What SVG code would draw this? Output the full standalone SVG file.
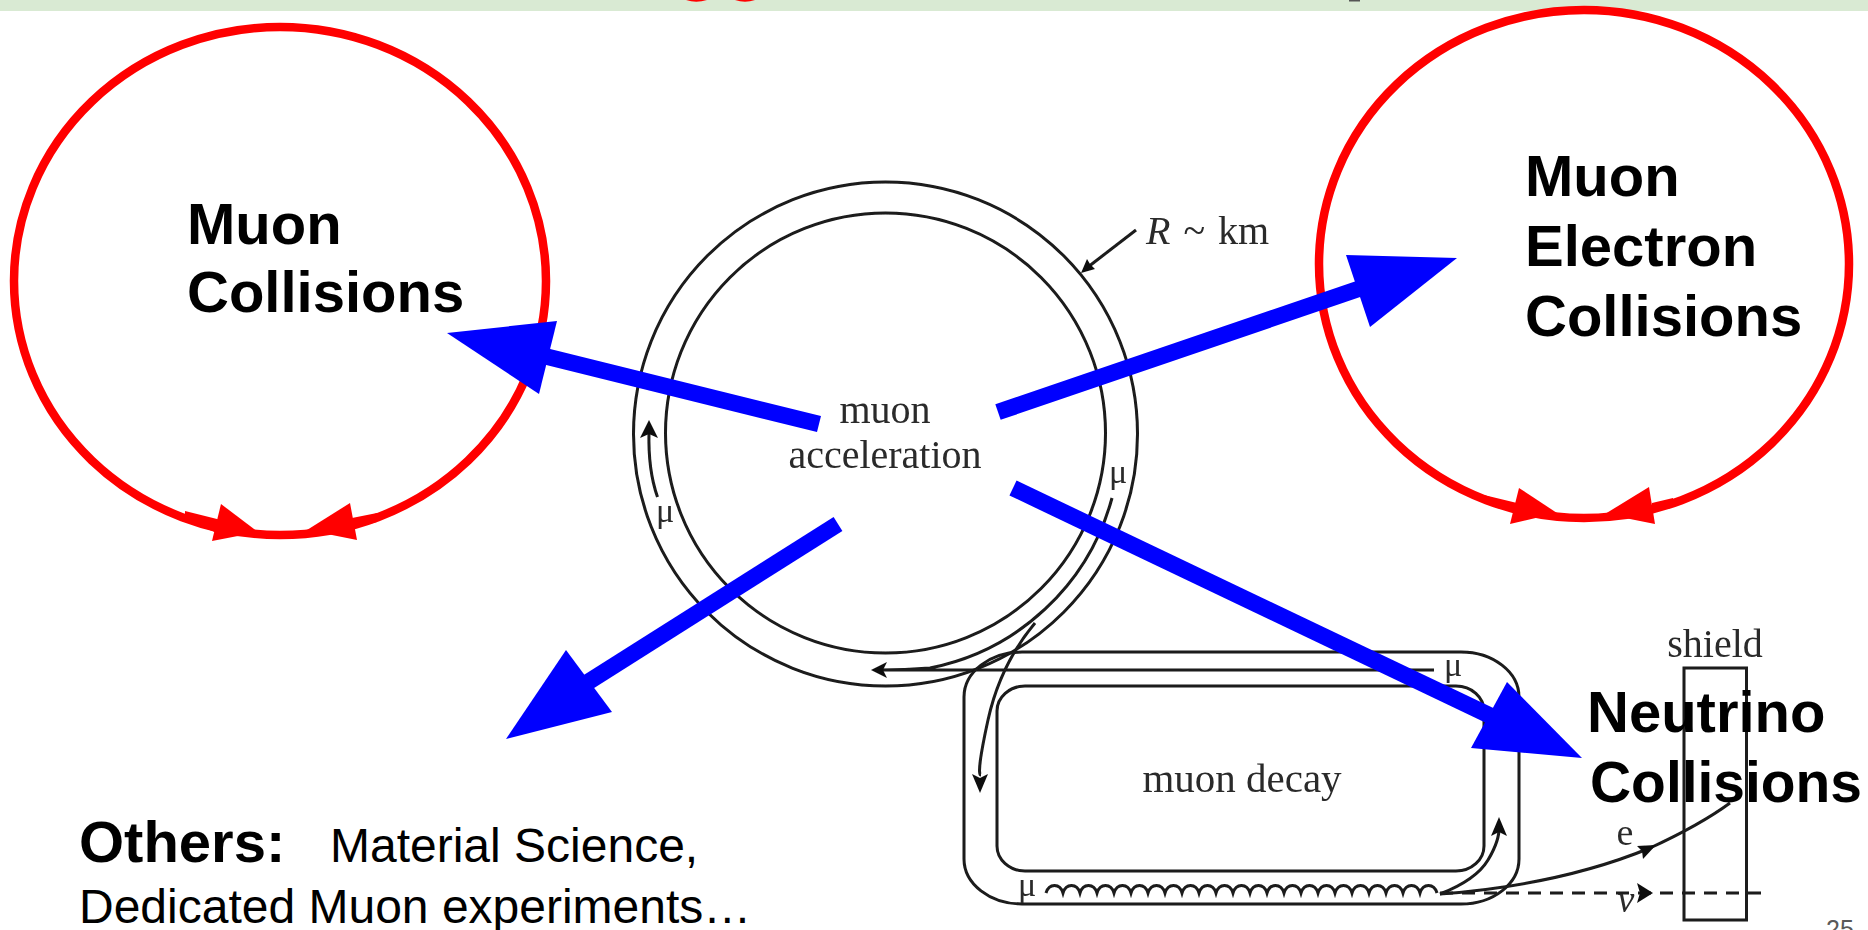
<svg xmlns="http://www.w3.org/2000/svg" width="1868" height="930" viewBox="0 0 1868 930">
<style>
.ink{fill:none;stroke:#1a1a1a;stroke-width:3}
.tip{fill:#111;stroke:none}
.serif{font-family:"Liberation Serif",serif;font-size:40px;fill:#2a2a2a;text-anchor:middle}
.red{fill:none;stroke:#f00;stroke-width:8.500}
.redf{fill:#f00;stroke:none}
.blue{stroke:#00f;stroke-width:16.500;fill:none}
.bluef{fill:#00f;stroke:none}
.big{font-family:"Liberation Sans",Arial,sans-serif;font-weight:700;font-size:58px;fill:#000}
.sub{font-family:"Liberation Sans",Arial,sans-serif;font-size:48px;fill:#000}
</style>
<defs><filter id="soft" x="-5%" y="-5%" width="110%" height="110%"><feGaussianBlur stdDeviation="0.6"/></filter></defs>
<rect width="1868" height="930" fill="#fff"/>
<g id="title-band">
<rect width="1868" height="11" fill="#d9ead3"/>
<path fill="#f00" d="M686 0Q696 3.500 707 0Z"/>
<path fill="#f00" d="M735 0Q745 3.500 755 0Z"/>
<rect x="1349" y="0" width="11" height="1.500" fill="#555"/>
</g>
<g id="scheme" filter="url(#soft)">
<circle class="ink" cx="885.5" cy="434" r="252"/>
<circle class="ink" cx="885.5" cy="433" r="220"/>
<path class="ink" d="M1112 498A236 236 0 0 1 930 668Q905 670 880 670M880 670H1434"/>
<path class="ink" d="M1035 623Q1000 665 988 720T981 775"/>
<path class="ink" d="M657.500 497Q648 470 649 432"/>
<rect class="ink" x="964" y="652" width="555" height="252" rx="58" ry="45"/>
<rect class="ink" x="997" y="686" width="487" height="185" rx="28" ry="25"/>
<path class="ink" d="M1136 230L1088 267"/>
<path class="tip" d="M1081 273L1087 259L1090 264L1095 269Z"/>
<path class="tip" d="M871 670L887 662L883 670L887 678Z"/>
<path class="tip" d="M649 420L658 438L649 434L640 438Z"/>
<path class="tip" d="M980 793L972 774L980 778L988 774Z"/>
<path class="ink" d="M1046 893c3-10 14-10 17 0c3-10 14-10 17 0c3-10 14-10 17 0c3-10 14-10 17 0c3-10 14-10 17 0c3-10 14-10 17 0c3-10 14-10 17 0c3-10 14-10 17 0c3-10 14-10 17 0c3-10 14-10 17 0c3-10 14-10 17 0c3-10 14-10 17 0c3-10 14-10 17 0c3-10 14-10 17 0c3-10 14-10 17 0c3-10 14-10 17 0c3-10 14-10 17 0c3-10 14-10 17 0c3-10 14-10 17 0c3-10 14-10 17 0c3-10 14-10 17 0c3-10 14-10 17 0c3-10 14-10 17 0"/>
<path class="ink" d="M1440 894Q1476 880 1488 860T1499 826"/>
<path class="tip" d="M1499 817L1507 836L1499 832L1491 836Z"/>
<path class="ink" d="M1440 894Q1560 885 1650 848Q1700 825 1730 803"/>
<path class="tip" d="M1656 845L1637 846L1642 851L1643 859Z"/>
<path class="ink" d="M1440 893H1762" stroke-dasharray="13 9"/>
<path class="tip" d="M1653 893L1637 883L1640 893L1637 903Z"/>
<rect class="ink" x="1684" y="668" width="62.500" height="252"/>
<text class="serif" x="885" y="423">muon</text>
<text class="serif" x="885" y="468">acceleration</text>
<text class="serif" x="1242" y="792" style="font-size:41px">muon decay</text>
<text class="serif" x="1715" y="657">shield</text>
<text class="serif" x="1146" y="244" style="text-anchor:start" word-spacing="3"><tspan font-style="italic">R</tspan> ~ km</text>
<text class="serif" x="665" y="522" style="font-size:34px">μ</text>
<text class="serif" x="1118" y="483" style="font-size:34px">μ</text>
<text class="serif" x="1453" y="676" style="font-size:34px">μ</text>
<text class="serif" x="1027" y="896" style="font-size:34px">μ</text>
<text class="serif" x="1625" y="845" style="font-size:38px">e</text>
<text class="serif" x="1626" y="912" style="font-size:38px;font-style:italic">ν</text>
</g>
<g id="muon-collisions">
<ellipse class="red" cx="280" cy="281" rx="266" ry="254"/>
<path class="redf" d="M221 504L212 541L258 532Z"/><path class="redf" d="M185 511L225 521L222 535L185 520Z"/>
<path class="redf" d="M350 503L357 540L307 530Z"/><path class="redf" d="M377 513L352 518L353 528L377 522Z"/>
<text class="big" x="187" y="244">Muon</text>
<text class="big" x="187" y="312">Collisions</text>
</g>
<g id="muon-electron-collisions">
<ellipse class="red" cx="1584" cy="264" rx="265" ry="254"/>
<path class="redf" d="M1519 488L1510 524L1557 513Z"/><path class="redf" d="M1484 495L1517 503L1515 510L1484 503Z"/>
<path class="redf" d="M1649 487L1655 524L1605 514Z"/><path class="redf" d="M1673 498L1652 503L1652 512L1673 505Z"/>
<text class="big" x="1525" y="196">Muon</text>
<text class="big" x="1525" y="266">Electron</text>
<text class="big" x="1525" y="336">Collisions</text>
</g>
<g id="connectors">
<path class="blue" d="M819 424L520 350"/>
<path class="bluef" d="M447 333L557 321L539 394Z"/>
<path class="blue" d="M998 412L1370 285"/>
<path class="bluef" d="M1457 258L1346 255L1370 327Z"/>
<path class="blue" d="M838 524L585 684"/>
<path class="bluef" d="M506 739L566 650L612 712Z"/>
<path class="blue" d="M1013 488L1495 718"/>
<path class="bluef" d="M1582 758L1507 682L1471 748Z"/>
</g>
<g id="neutrino-collisions">
<text class="big" x="1587" y="732">Neutrino</text>
<text class="big" x="1590" y="802" textLength="272" lengthAdjust="spacingAndGlyphs">Collisions</text>
</g>
<g id="others">
<text class="big" x="79" y="862">Others:</text>
<text class="sub" x="330" y="862">Material Science,</text>
<text class="sub" x="79" y="923">Dedicated Muon experiments…</text>
</g>
<text id="page-number" x="1826" y="938" font-family="Liberation Sans, Arial, sans-serif" font-size="25" fill="#595959">25</text>
</svg>
